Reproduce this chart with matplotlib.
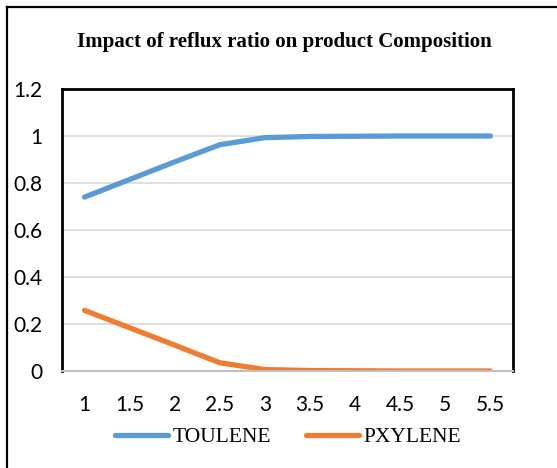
import matplotlib

matplotlib.use("Agg")
import matplotlib.pyplot as plt
from matplotlib.lines import Line2D

# reflux ratio categories and product mole fractions
reflux_ratio = ["1", "1.5", "2", "2.5", "3", "3.5", "4", "4.5", "5", "5.5"]
toulene = [0.74, 0.815, 0.89, 0.963, 0.993, 0.998, 0.999, 1.0, 1.0, 1.0]
pxylene = [0.258, 0.184, 0.11, 0.035, 0.006, 0.002, 0.001, 0.0, 0.0, 0.0]
y_ticks = [0, 0.2, 0.4, 0.6, 0.8, 1.0, 1.2]
y_tick_labels = ["0", "0.2", "0.4", "0.6", "0.8", "1", "1.2"]

BLUE = "#5B9BD5"
ORANGE = "#ED7D31"
W, H = 557, 468

fig = plt.figure(figsize=(W / 100, H / 100), dpi=100)
ax = fig.add_axes([62 / W, 1 - 371 / H, (513 - 62) / W, (371 - 89) / H])

x = list(range(len(reflux_ratio)))
ax.plot(x, toulene, color=BLUE, lw=3.8, solid_capstyle="round", solid_joinstyle="round", label="TOULENE")
ax.plot(x, pxylene, color=ORANGE, lw=3.8, solid_capstyle="round", solid_joinstyle="round", label="PXYLENE")

ax.set_xlim(-0.5, len(reflux_ratio) - 0.5)
ax.set_ylim(0, 1.2)
ax.set_xticks(x)
ax.set_xticklabels(reflux_ratio)
ax.set_yticks(y_ticks)
ax.set_yticklabels(y_tick_labels)
ax.tick_params(length=0, labelsize=15)
ax.tick_params(axis="y", pad=14)
ax.tick_params(axis="x", pad=17)
for lbl in ax.get_xticklabels() + ax.get_yticklabels():
    lbl.set_fontfamily("Lato")

ax.grid(axis="y", color="#D9D9D9", lw=1.2)
ax.set_axisbelow(True)
for side in ("left", "top", "right"):
    ax.spines[side].set_color("black")
    ax.spines[side].set_linewidth(2)
ax.spines["bottom"].set_color("#BFBFBF")
ax.spines["bottom"].set_linewidth(1.5)

fig.text(284 / W, 1 - 42 / H, "Impact of reflux ratio on product Composition",
         ha="center", va="center", fontsize=15, fontweight="bold",
         family="Liberation Serif")

fig.legend(loc="center", bbox_to_anchor=(288 / W, 1 - 437 / H), ncol=2,
           frameon=False, prop={"family": "Liberation Serif", "size": 15.5},
           handlelength=2.5, handletextpad=0.2, columnspacing=1.6)

# outer frame (left and top edges)
fig.add_artist(Line2D([7 / W, 7 / W], [0, 1 - 7 / H], color="black", lw=1.6))
fig.add_artist(Line2D([7 / W, 1], [1 - 7 / H, 1 - 7 / H], color="black", lw=1.6))

fig.savefig("out.png", dpi=100)
